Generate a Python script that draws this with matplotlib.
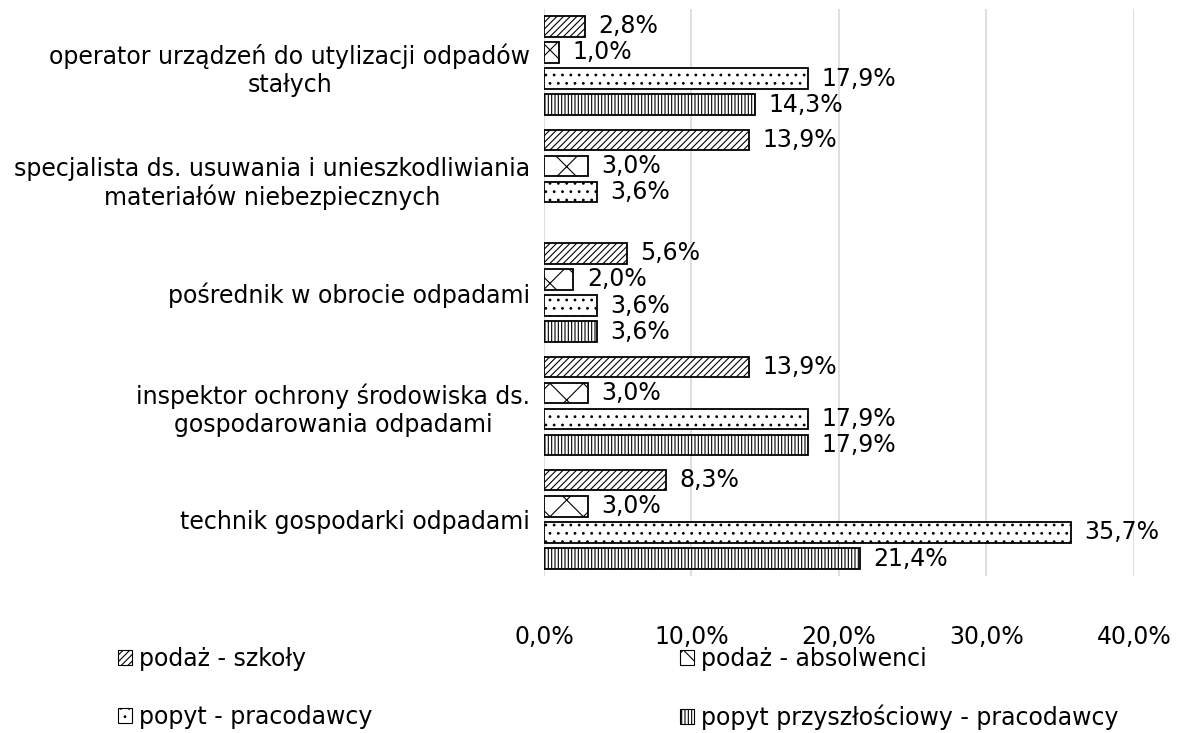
import matplotlib.pyplot as plt
from matplotlib.patches import Patch

# Data (bottom -> top on the chart)
categories = [
    "technik gospodarki odpadami",
    "inspektor ochrony środowiska ds.\ngospodarowania odpadami",
    "pośrednik w obrocie odpadami",
    "specjalista ds. usuwania i unieszkodliwiania\nmateriałów niebezpiecznych",
    "operator urządzeń do utylizacji odpadów\nstałych",
]
podaz_szkoly = [8.3, 13.9, 5.6, 13.9, 2.8]
podaz_absolwenci = [3.0, 3.0, 2.0, 3.0, 1.0]
popyt_pracodawcy = [35.7, 17.9, 3.6, 3.6, 17.9]
popyt_przyszlosciowy = [21.4, 17.9, 3.6, 0.0, 14.3]

series = [
    ("podaż - szkoły", podaz_szkoly, "/////"),
    ("podaż - absolwenci", podaz_absolwenci, "x"),
    ("popyt - pracodawcy", popyt_pracodawcy, ".."),
    ("popyt przyszłościowy - pracodawcy", popyt_przyszlosciowy, "|||||"),
]

plt.rcParams["font.family"] = "DejaVu Sans"
plt.rcParams["hatch.linewidth"] = 0.8

fig = plt.figure(figsize=(11.8, 7.33), dpi=100)
ax = fig.add_axes([0.461, 0.214, 0.5, 0.774])

fs = 17
stride = 0.23
height = 0.18
offsets = [1.5, 0.5, -0.5, -1.5]

handles = []
for (name, vals, hatch), off in zip(series, offsets):
    ys = [i + off * stride for i in range(len(categories))]
    keep = [(y, v) for y, v in zip(ys, vals) if v > 0]
    ax.barh([k[0] for k in keep], [k[1] for k in keep], height=height,
            color="white", edgecolor="black", linewidth=1.3, hatch=hatch, zorder=3)
    for y, v in keep:
        ax.text(v + 0.9, y, f"{v:.1f}%".replace(".", ","), va="center",
                ha="left", fontsize=fs)
    handles.append(Patch(facecolor="white", edgecolor="black", hatch=hatch,
                         linewidth=0.8, label=name))

ax.set_ylim(-0.5, len(categories) - 0.5)
ax.set_xlim(0, 40)
ax.set_xticks([0, 10, 20, 30, 40])
ax.set_xticklabels([f"{t:.1f}%".replace(".", ",") for t in [0, 10, 20, 30, 40]],
                   fontsize=fs)
ax.set_yticks(range(len(categories)))
ax.set_yticklabels(categories, fontsize=fs)
for t in ax.get_yticklabels():
    t.set_multialignment("center")
ax.tick_params(axis="both", length=0)
ax.tick_params(axis="x", pad=35)
ax.tick_params(axis="y", pad=10)
ax.grid(axis="x", color="#d9d9d9", linewidth=1.2, zorder=0)
for s in ax.spines.values():
    s.set_visible(False)

leg_kw = dict(frameon=False, fontsize=fs, handlelength=0.6, handleheight=0.6,
              handletextpad=0.3, labelspacing=1.45, loc="upper left",
              borderpad=0, borderaxespad=0)
fig.legend(handles=[handles[0], handles[2]], bbox_to_anchor=(0.1, 0.118), **leg_kw)
fig.legend(handles=[handles[1], handles[3]], bbox_to_anchor=(0.576, 0.118), **leg_kw)

fig.savefig("out.png", dpi=100)
